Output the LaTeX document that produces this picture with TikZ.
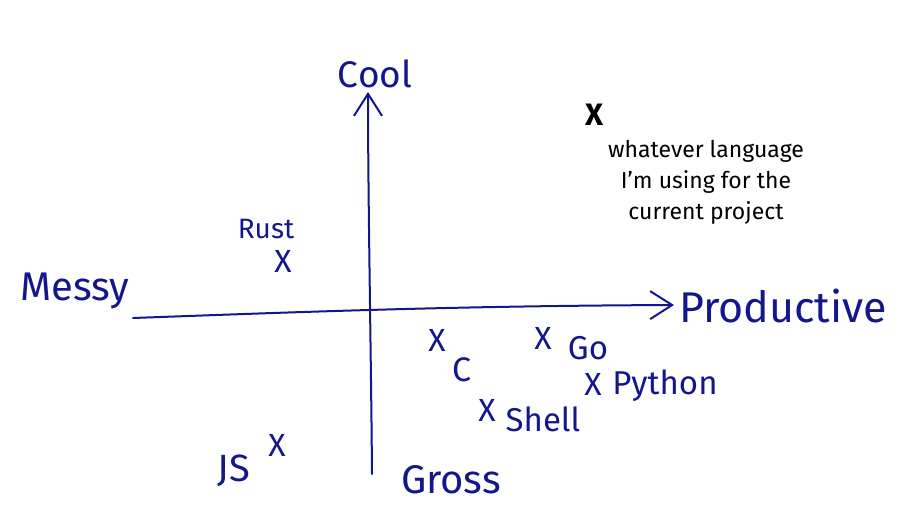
\documentclass[tikz,border=0pt]{standalone}
\usepackage{fontspec}
\setmainfont{Fira Sans}
\newfontfamily\notefont{Fira Sans}
\usetikzlibrary{arrows.meta}
\definecolor{ink}{RGB}{20,22,140}
\tikzset{
  hand/.style={text=ink, inner sep=0pt, font=#1},
  hand/.default=\fontsize{36}{38}\selectfont,
  xmark/.style={text=ink, inner sep=0pt, font=\fontsize{32}{32}\selectfont},
  axis/.style={draw=ink, line width=2pt, line cap=round,
    -{Straight Barb[length=22pt,width=28pt,line width=2pt]}},
  note/.style={text=black, inner sep=0pt, align=center,
    font=\notefont\fontsize{23}{31}\selectfont}
}
\begin{document}
\begin{tikzpicture}[x=1pt,y=-1pt]
\useasboundingbox (0,0) rectangle (924,524);
% axes
\coordinate (hl) at (133,318);
\coordinate (hr) at (674,305);
\coordinate (vb) at (372,474);
\coordinate (vt) at (368,92);
\draw[axis] (hl) .. controls (300,312) and (450,306) .. (hr);
\draw[axis] (vb) .. controls (371,350) and (368,200) .. (vt);
% axis labels
\node[hand={\fontsize{37}{38}\selectfont}] (cool) at (375,74) {Cool};
\node[hand={\fontsize{40}{42}\selectfont}] (messy) at (75,291) {Messy};
\node[hand={\fontsize{43}{45}\selectfont}] (prod) at (783,306) {Productive};
\node[hand={\fontsize{40}{42}\selectfont}] (gross) at (451,480) {Gross};
% languages
\node[hand={\fontsize{28}{30}\selectfont}] (rust) at (266,229) {Rust};
\node[xmark] (xrust) at (283,261) {X};
\node[hand={\fontsize{38}{40}\selectfont}] (js) at (234,471) {JS};
\node[xmark] (xjs) at (277,445) {X};
\node[xmark] (xc) at (437,340) {X};
\node[hand={\fontsize{34}{34}\selectfont}] (c) at (462,370) {C};
\node[xmark] (xgo) at (543,338) {X};
\node[hand={\fontsize{33}{34}\selectfont}] (go) at (588,348) {Go};
\node[xmark] (xpy) at (593,384) {X};
\node[hand={\fontsize{33}{34}\selectfont}] (py) at (665,386) {Python};
\node[xmark] (xsh) at (487,410) {X};
\node[hand={\fontsize{33}{34}\selectfont}] (sh) at (543,419) {Shell};
% note
\node[text=black, inner sep=0pt, font=\bfseries\fontsize{31}{31}\selectfont] (xnote) at (594,115) {X};
\node[note] (note) at (706,182) {whatever language\\I’m using for the\\current project};
\end{tikzpicture}
\end{document}
